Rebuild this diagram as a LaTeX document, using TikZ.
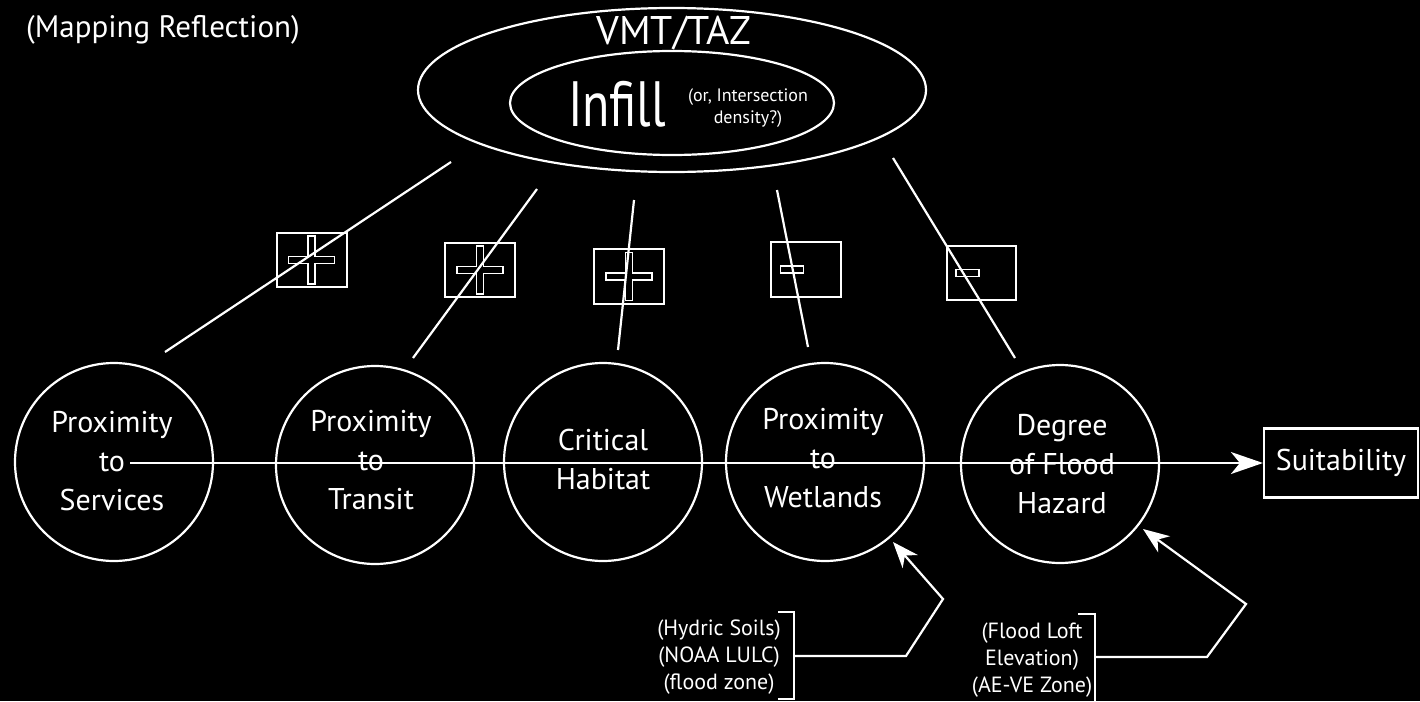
\documentclass[tikz,border=0pt]{standalone}
\usepackage{fontspec}
\setmainfont{PT Sans}
\usetikzlibrary{arrows.meta,shapes.geometric}
\tikzset{
  conn/.style={draw=white, line width=2.2pt},
  bigarrow/.style={-{Stealth[length=32pt,width=22pt,inset=9pt]}},
  smallarrow/.style={-{Stealth[length=26pt,width=20pt,inset=8pt]}},
  circ/.style={circle, draw=white, line width=2.2pt, minimum size=198pt, inner sep=0pt},
  ctext/.style={text=white, inner sep=0pt, align=center, font=\fontsize{30}{39}\selectfont},
  signbox/.style={draw=white, line width=2pt, minimum width=70pt, minimum height=54pt, inner sep=0pt},
  signmark/.style={draw=white, line width=1.6pt},
  ell/.style={ellipse, draw=white, line width=2.2pt, inner sep=0pt},
  lbl/.style={text=white, inner sep=0pt},
  smalltxt/.style={lbl, align=center, font=\fontsize{22}{27}\selectfont},
  plussign/.pic={\draw[signmark] (-23,-3.5) -- (-3.5,-3.5) -- (-3.5,-24) -- (3.5,-24) -- (3.5,-3.5)
     -- (23,-3.5) -- (23,3.5) -- (3.5,3.5) -- (3.5,24) -- (-3.5,24) -- (-3.5,3.5) -- (-23,3.5) -- cycle;},
  minussign/.pic={\draw[signmark] (-11.5,-3.5) rectangle (11.5,3.5);}
}
\begin{document}
\begin{tikzpicture}[x=1pt,y=-1pt]
\fill[black] (0,0) rectangle (1420,701);
\useasboundingbox (0,0) rectangle (1420,701);

% title
\node[lbl, anchor=west, font=\fontsize{31}{34}\selectfont] (title) at (26,30) {(Mapping Reflection)};

% ellipses
\node[ell, minimum width=508pt, minimum height=164pt] (outer) at (672,90) {};
\node[lbl, font=\fontsize{40}{44}\selectfont] (vmt) at (674,33) {VMT/TAZ};
\node[ell, minimum width=324pt, minimum height=104pt] (inner) at (672,103) {};
\node[lbl, font=\fontsize{64}{66}\selectfont, anchor=base] (infill) at (617,126) {\scalebox{0.78}[1]{Infill}};
\node[lbl, align=center, font=\fontsize{18}{22}\selectfont] (infnote) at (748,108) {(or, Intersection\\density?)};

% circles
\node[circ] (c1) at (114,462) {};
\node[circ] (c2) at (375,465) {};
\node[circ] (c3) at (603,462) {};
\node[circ] (c4) at (825,462) {};
\node[circ] (c5) at (1060,464) {};
\node[ctext] (c1t) at (112,461) {Proximity\\to\\Services};
\node[ctext] (c2t) at (371,460) {Proximity\\to\\Transit};
\node[ctext] (c3t) at (603,459) {Critical\\Habitat};
\node[ctext] (c4t) at (823,458) {Proximity\\to\\Wetlands};
\node[ctext] (c5t) at (1062,464) {Degree\\of Flood\\Hazard};

% suitability
\node[draw=white, line width=2.2pt, minimum width=154pt, minimum height=69pt, inner sep=0pt,
  text=white, font=\fontsize{30}{32}\selectfont] (suit) at (1341,463) {Suitability};

% sign boxes
\node[signbox] (s1) at (311.5,260) {};
\node[signbox] (s2) at (480,270) {};
\node[signbox, minimum height=55pt] (s3) at (629,276.5) {};
\node[signbox, minimum height=55pt] (s4) at (806,269.5) {};
\node[signbox, minimum width=69pt] (s5) at (981.5,273) {};
\pic at (s1.center) {plussign};
\pic at (s2.center) {plussign};
\pic at (s3.center) {plussign};
\pic at ([xshift=-14pt]s4.center) {minussign};
\pic at ([xshift=-14pt]s5.center) {minussign};

% connectors from ellipse
\coordinate (t1) at (451,162); \coordinate (b1) at (165,352);
\coordinate (t2) at (537,189); \coordinate (b2) at (413,358);
\coordinate (t3) at (634,200); \coordinate (b3) at (618,350);
\coordinate (t4) at (777,190); \coordinate (b4) at (808,347);
\coordinate (t5) at (893,158); \coordinate (b5) at (1015,358);
\foreach \i in {1,...,5} {\draw[conn] (t\i) -- (b\i);}

% main arrow
\coordinate (mstart) at (130,463);
\draw[conn, bigarrow] (mstart) -- (suit.west);

% annotation 1
\node[smalltxt] (n1) at (719,657) {(Hydric Soils)\\(NOAA LULC)\\(flood zone)};
\coordinate (br1) at (794,656);
\draw[conn] (778,612) -- (794,612) -- (794,699) -- (778,699);
\coordinate (k1) at (906,656);
\coordinate (m1) at (943,599);
\coordinate (a1) at (893,542);
\draw[conn, smallarrow] (br1) -- (k1) -- (m1) -- (a1);

% annotation 2
\node[smalltxt] (n2) at (1032,660) {(Flood Loft\\Elevation)\\(AE-VE Zone)};
\coordinate (br2) at (1095,657);
\draw[conn] (1078,614) -- (1095,614) -- (1095,701);
\coordinate (k2) at (1207,657);
\coordinate (m2) at (1246,604);
\coordinate (a2) at (1143,529);
\draw[conn, smallarrow] (br2) -- (k2) -- (m2) -- (a2);
\end{tikzpicture}
\end{document}
